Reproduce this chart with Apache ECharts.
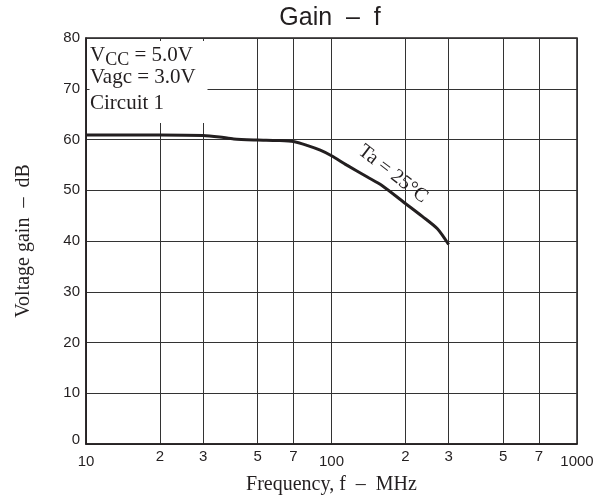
<!DOCTYPE html>
<html>
<head>
<meta charset="utf-8">
<style>
  html, body { margin: 0; padding: 0; background: #fff; }
  #chart { width: 608px; height: 502px; }
</style>
<script src="https://cdn.jsdelivr.net/npm/echarts@6/dist/echarts.min.js"></script>
</head>
<body>
<div id="chart"></div>
<script>
// curve (Ta = 25°C)
const freq = [10, 20, 30, 35, 40, 50, 60, 70, 80, 90, 100, 115, 140, 160, 200, 235, 270, 300];
const gain = [60.9, 60.9, 60.8, 60.5, 60.1, 59.9, 59.8, 59.6, 58.8, 57.9, 56.8, 55.0, 52.6, 51.0, 47.4, 44.8, 42.4, 39.3];
const freqTicks = [10, 20, 30, 50, 70, 100, 200, 300, 500, 700, 1000];
const conditions = ['{v|V}{sub|CC}{v| = 5.0V}', 'Vagc = 3.0V', 'Circuit 1'];

const ink = '#231f20';
const serif = '"Liberation Serif", "DejaVu Serif", serif';
const sans = '"Liberation Sans", Arial, sans-serif';

// the grid of the log axis is drawn by a helper value axis in decades (log10 f)
const tickPos = freqTicks.map((f) => Math.log10(f));

const chart = echarts.init(document.getElementById('chart'), null, { renderer: 'canvas' });

chart.setOption({
  animation: false,
  backgroundColor: '#fff',
  title: {
    text: 'Gain  \u2013  f',
    left: 330,
    top: 6,
    padding: 0,
    textAlign: 'center',
    textStyle: { fontFamily: sans, fontSize: 25, fontWeight: 'normal', color: ink }
  },
  grid: {
    left: 86,
    right: 31,
    top: 38,
    bottom: 58,
    show: true,
    borderColor: ink,
    borderWidth: 1.5,
    outerBoundsMode: 'none'
  },
  xAxis: [
    {
      type: 'log',
      logBase: 10,
      min: 10,
      max: 1000,
      show: false
    },
    {
      type: 'value',
      min: 1,
      max: 3,
      position: 'bottom',
      name: 'Frequency, f  \u2013  MHz',
      nameLocation: 'middle',
      nameGap: 31,
      nameMoveOverlap: false,
      nameTextStyle: { fontFamily: serif, fontSize: 20, color: ink },
      axisLine: { lineStyle: { color: ink, width: 1.5 } },
      axisTick: { show: false, customValues: tickPos },
      splitLine: { show: true, lineStyle: { color: '#333', width: 1 } },
      axisLabel: {
        customValues: tickPos,
        margin: 5,
        fontFamily: sans,
        fontSize: 15,
        color: ink,
        hideOverlap: false,
        formatter: (v) => {
          const f = Math.round(Math.pow(10, v));
          if ([10, 100, 1000].includes(f)) return '{dec|' + f + '}';
          return String(f)[0];
        },
        rich: {
          dec: { fontFamily: sans, fontSize: 15, color: ink, padding: [5, 0, 0, 0] }
        }
      }
    }
  ],
  yAxis: {
    type: 'value',
    min: 0,
    max: 80,
    interval: 10,
    name: 'Voltage gain  \u2013  dB',
    nameLocation: 'middle',
    nameRotate: 90,
    nameGap: 52,
    nameMoveOverlap: false,
    nameTextStyle: { fontFamily: serif, fontSize: 20, color: ink },
    axisLine: { show: true, lineStyle: { color: ink, width: 1.5 } },
    axisTick: { show: false },
    splitLine: { show: true, lineStyle: { color: '#333', width: 1 } },
    axisLabel: {
      margin: 6,
      fontFamily: sans,
      fontSize: 15,
      color: ink,
      formatter: (v) => (v === 0 ? '{zero|0}' : String(v)),
      rich: {
        zero: { fontFamily: sans, fontSize: 15, color: ink, padding: [0, 0, 8, 0] }
      }
    }
  },
  series: [
    {
      type: 'line',
      xAxisIndex: 0,
      yAxisIndex: 0,
      data: freq.map((f, i) => [f, gain[i]]),
      showSymbol: false,
      smooth: 0.25,
      lineStyle: { color: ink, width: 3 },
      z: 5
    }
  ],
  graphic: [
    // white panel holding the test conditions, covers the grid lines behind it
    {
      type: 'rect',
      z: 50,
      shape: { x: 89.5, y: 41, width: 118, height: 82 },
      style: { fill: '#fff' }
    },
    ...conditions.map((t, i) => ({
      type: 'text',
      z: 51,
      x: 90,
      y: [55, 77, 103][i],
      style: {
        text: t,
        fill: ink,
        font: '21px ' + serif,
        textAlign: 'left',
        textVerticalAlign: 'middle',
        rich: {
          v: { fontFamily: serif, fontSize: 21, lineHeight: 18, fill: ink },
          sub: { fontFamily: serif, fontSize: 18, lineHeight: 18, fill: ink, padding: [10, 0, 0, 0] }
        }
      }
    })),
    {
      type: 'text',
      z: 51,
      x: 393,
      y: 174,
      rotation: -37.7 * Math.PI / 180,
      style: {
        text: 'Ta = 25\u00b0C',
        fill: ink,
        font: '20px ' + serif,
        textAlign: 'center',
        textVerticalAlign: 'middle'
      }
    }
  ]
});
</script>
</body>
</html>
